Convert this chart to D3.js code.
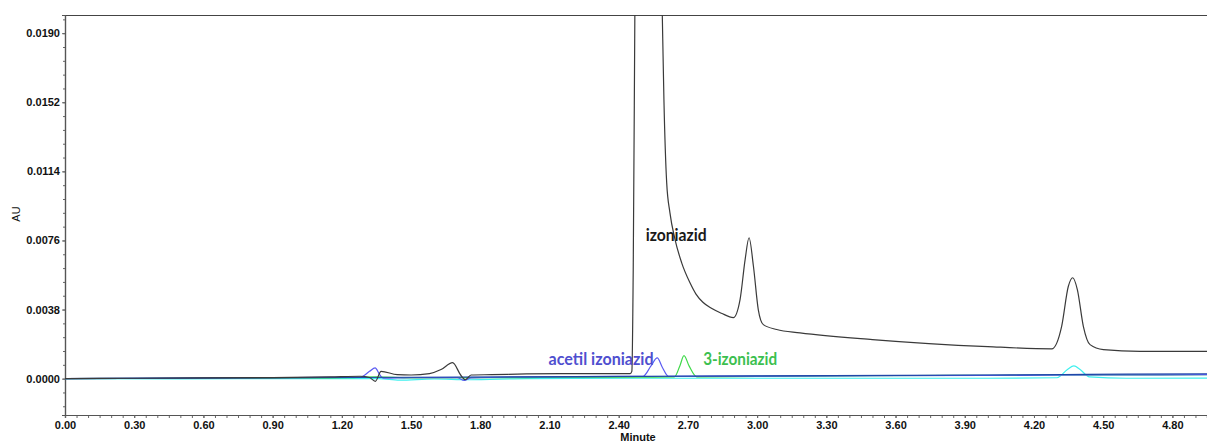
<!DOCTYPE html>
<html><head><meta charset="utf-8">
<script src="https://cdn.jsdelivr.net/npm/d3@7"></script>
<style>
html,body{margin:0;padding:0;background:#fff;}
svg{display:block;}
</style></head>
<body>
<svg id="chart" width="1207" height="442"></svg>
<script>
// ---- data (time in minutes, absorbance in AU) ----
const xTickValues = [0.00,0.30,0.60,0.90,1.20,1.50,1.80,2.10,2.40,2.70,3.00,3.30,3.60,3.90,4.20,4.50,4.80];
const yTickValues = [0.0000,0.0038,0.0076,0.0114,0.0152,0.0190];

const blackTrace = [[0,0],[0.3,0.00002],[0.6,0.00004],[0.9,0.00006],[1.15,0.0001],[1.28,0.00013],[1.32,0.00006],[1.345,-0.00015],[1.37,0.0004],[1.44,0.00022],[1.5,0.0002],[1.58,0.00028],[1.63,0.0005],[1.68,0.00088],[1.715,0.0002],[1.735,-0.00006],[1.76,0.0002],[1.85,0.00022],[2.0,0.00026],[2.2,0.00028],[2.45,0.00028],[2.457,0.0004],[2.463,0.006],[2.47,0.02],[2.475,0.03],[2.53,0.045],[2.575,0.03],[2.589,0.020],[2.596,0.01537],[2.608,0.01078],[2.622,0.00913],[2.644,0.00766],[2.673,0.00637],[2.709,0.00527],[2.735,0.00465],[2.765,0.0042],[2.80,0.00388],[2.845,0.0036],[2.897,0.00336],[2.926,0.00435],[2.948,0.00655],[2.965,0.00775],[2.984,0.00618],[3.005,0.0038],[3.027,0.00297],[3.085,0.0027],[3.186,0.00252],[3.5,0.00215],[4.0,0.00176],[4.277,0.00164],[4.32,0.00288],[4.349,0.00508],[4.368,0.00555],[4.388,0.0049],[4.414,0.00288],[4.443,0.00187],[4.501,0.0016],[4.66,0.0015],[4.95,0.0015]];
const blueTrace = [[0,0],[0.5,0.00003],[1.0,0.00006],[1.28,0.00008],[1.32,0.0004],[1.344,0.00059],[1.365,0.0002],[1.38,0.00002],[1.5,0.00005],[1.7,0.00006],[1.73,-0.0001],[1.76,0.00004],[2.0,0.0001],[2.4,0.00012],[2.506,0.00013],[2.54,0.0007],[2.567,0.00114],[2.59,0.0006],[2.615,0.00013],[3.0,0.00014],[3.5,0.00016],[4.0,0.00018],[4.5,0.0002],[4.95,0.00022]];
const greenTrace = [[0,0],[0.5,0.00002],[1.0,0.00004],[1.2,0.00005],[1.35,0.0001],[1.5,0.00004],[2.0,0.00006],[2.5,0.00008],[2.641,0.00009],[2.665,0.0007],[2.683,0.00127],[2.705,0.0007],[2.738,0.0001],[3.0,0.00012],[3.5,0.00016],[4.0,0.00018],[4.5,0.0002],[4.95,0.00022]];
const cyanTrace = [[0,0],[0.5,-0.00001],[1.0,0.0],[1.36,0.0],[1.45,-0.00008],[1.6,-0.00002],[1.75,-0.00006],[2.0,0.0],[2.5,0.00002],[3.0,0.00002],[4.0,0.00002],[4.3,0.00005],[4.345,0.0005],[4.373,0.0007],[4.40,0.0005],[4.44,0.0001],[4.6,0.00002],[4.95,0.00003]];
const navyTrace = [[0,0],[1.0,0.00005],[2.0,0.0001],[3.0,0.00015],[4.0,0.0002],[4.6,0.00025],[4.95,0.00027]];

const peakLabels = [
  {text:"izoniazid", t:2.517, v:0.00755, color:"#1a1a1a", len:61},
  {text:"acetil izoniazid", t:2.096, v:0.00077, color:"#4f4fcf", len:105},
  {text:"3-izoniazid", t:2.766, v:0.00077, color:"#3cbf4f", len:74}
];

// ---- layout ----
const W = 1207, H = 442;
const m = {left:65, top:15, right:0, bottom:27};
const svg = d3.select("#chart");
const x = d3.scaleLinear().domain([0, 4.95]).range([m.left, W - m.right]);
const y = d3.scaleLinear().domain([-0.0020, 0.0200]).range([H - m.bottom, m.top]);

svg.append("defs").append("clipPath").attr("id","clip")
  .append("rect").attr("x", m.left).attr("y", m.top)
  .attr("width", W - m.left - m.right).attr("height", H - m.bottom - m.top);

// top border
svg.append("line").attr("x1", m.left).attr("x2", W).attr("y1", m.top + 0.5).attr("y2", m.top + 0.5)
  .attr("stroke", "#444").attr("stroke-width", 1.2);

// axes
const fmtX = d3.format(".2f"), fmtY = d3.format(".4f");
const xMinor = d3.range(0, 4.951, 0.05);
const yMinor = d3.range(-0.00152, 0.0200, 0.00076);

const gxMinor = svg.append("g").attr("transform", `translate(0,${H - m.bottom})`)
  .call(d3.axisBottom(x).tickValues(xMinor).tickSize(3).tickFormat(""));
const gx = svg.append("g").attr("transform", `translate(0,${H - m.bottom})`)
  .call(d3.axisBottom(x).tickValues(xTickValues).tickSize(3).tickPadding(3).tickFormat(fmtX));
const gyMinor = svg.append("g").attr("transform", `translate(${m.left},0)`)
  .call(d3.axisLeft(y).tickValues(yMinor).tickSize(2).tickFormat(""));
const gy = svg.append("g").attr("transform", `translate(${m.left},0)`)
  .call(d3.axisLeft(y).tickValues(yTickValues).tickSize(3).tickPadding(2).tickFormat(fmtY));

[gx, gy, gxMinor, gyMinor].forEach(g => {
  g.selectAll(".domain").attr("stroke", "#555").attr("stroke-width", 1.2);
  g.selectAll(".tick line").attr("stroke", "#666");
  g.selectAll("text").attr("font-family", "'Liberation Sans', Arial, sans-serif")
    .attr("font-weight", "bold").attr("font-size", 11).attr("fill", "#111");
});
gx.selectAll("text").attr("dy", "0.71em");

// axis titles
svg.append("text").attr("transform", "translate(20,214) rotate(-90)")
  .attr("text-anchor", "middle").attr("font-family", "'Liberation Sans', Arial, sans-serif")
  .attr("font-size", 11).attr("fill", "#111").text("AU");
svg.append("text").attr("x", 638).attr("y", 441)
  .attr("text-anchor", "middle").attr("font-family", "'Liberation Sans', Arial, sans-serif")
  .attr("font-weight", "bold").attr("font-size", 11).attr("fill", "#111").text("Minute");

// traces
const line = d3.line().x(d => x(d[0])).y(d => y(d[1])).curve(d3.curveMonotoneX);
const traces = [
  {data: cyanTrace, color: "#3ff0ee"},
  {data: greenTrace, color: "#3fd94a"},
  {data: blueTrace, color: "#5b5bf2"},
  {data: navyTrace, color: "#1f47a8"},
  {data: blackTrace, color: "#3a3a3a"}
];
const gp = svg.append("g").attr("clip-path", "url(#clip)");
gp.selectAll("path").data(traces).join("path")
  .attr("d", d => line(d.data)).attr("fill", "none")
  .attr("stroke", d => d.color).attr("stroke-width", 1.2);

// peak labels
svg.selectAll("text.peak").data(peakLabels).join("text").attr("class", "peak")
  .attr("x", d => x(d.t)).attr("y", d => y(d.v))
  .attr("font-family", "Lato, 'Open Sans', sans-serif").attr("font-weight", "bold")
  .attr("font-size", 16.5).attr("fill", d => d.color)
  .attr("textLength", d => d.len).attr("lengthAdjust", "spacingAndGlyphs")
  .text(d => d.text);
</script>
</body></html>
